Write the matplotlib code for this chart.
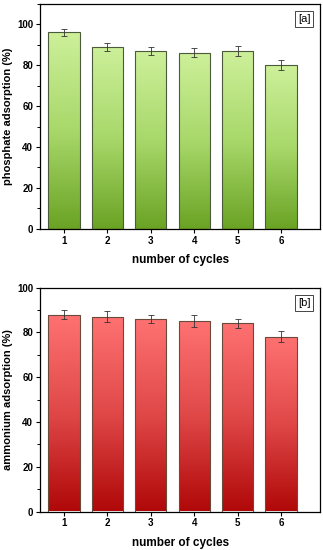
import numpy as np
import matplotlib
matplotlib.use("Agg")
import matplotlib.pyplot as plt
from matplotlib.colors import LinearSegmentedColormap
from matplotlib.ticker import MultipleLocator

cycles = [1, 2, 3, 4, 5, 6]
phosphate = [96, 89, 87, 86, 87, 80]
phosphate_err = [1.5, 2.0, 2.0, 2.2, 2.6, 2.5]
ammonium = [88, 87, 86, 85, 84, 78]
ammonium_err = [2.0, 2.5, 1.8, 2.6, 2.0, 2.5]

plt.rcParams['font.family'] = ['Liberation Sans', 'DejaVu Sans']
plt.rcParams['font.weight'] = 'bold'

green = LinearSegmentedColormap.from_list("g", ["#6aa324", "#a8d86a", "#cdf09a"])
red = LinearSegmentedColormap.from_list("r", ["#b00808", "#e04848", "#ff7272"])


def gradient_bars(ax, x, y, err, cmap, ymax, label, tag, edge):
    bars = ax.bar(x, y, width=0.72, color="none", edgecolor=edge, linewidth=0.8, zorder=3)
    grad = np.linspace(0, 1, 256).reshape(-1, 1)
    for b in bars:
        im = ax.imshow(grad, cmap=cmap, aspect="auto", origin="lower",
                       extent=[b.get_x(), b.get_x() + b.get_width(), 0, b.get_height()],
                       zorder=2)
        im.set_clip_path(b)
    ax.errorbar(x, y, yerr=err, fmt="none", ecolor="#333333", elinewidth=0.6,
                capsize=2, capthick=0.6, zorder=4)
    ax.set_xlim(0.45, 6.9)
    ax.set_ylim(0, ymax)
    ax.set_xticks(x)
    ax.yaxis.set_major_locator(MultipleLocator(20))
    ax.yaxis.set_minor_locator(MultipleLocator(10))
    ax.tick_params(axis="both", labelsize=7, length=3, width=0.8, pad=2)
    ax.tick_params(axis="y", which="minor", length=2, width=0.7)
    ax.set_xlabel("number of cycles", fontsize=8.5, fontweight="bold", labelpad=6)
    ax.set_ylabel(label, fontsize=8, fontweight="bold", labelpad=3)
    for s in ax.spines.values():
        s.set_linewidth(0.9)
    ax.text(0.965, 0.955, tag, transform=ax.transAxes, ha="right", va="top",
            fontsize=8, fontweight="normal",
            bbox=dict(boxstyle="square,pad=0.25", fc="white", ec="#444444", lw=0.7))


fig = plt.figure(figsize=(3.23, 5.5), dpi=100)
ax1 = fig.add_axes([0.124, 0.584, 0.867, 0.409])
ax2 = fig.add_axes([0.124, 0.070, 0.867, 0.407])

gradient_bars(ax1, cycles, phosphate, phosphate_err, green, 110,
              "phosphate adsorption (%)", "[a]", "#4a5a3a")
gradient_bars(ax2, cycles, ammonium, ammonium_err, red, 100,
              "ammonium adsorption (%)", "[b]", "#6a4a3a")

fig.savefig("out.png", dpi=100)
